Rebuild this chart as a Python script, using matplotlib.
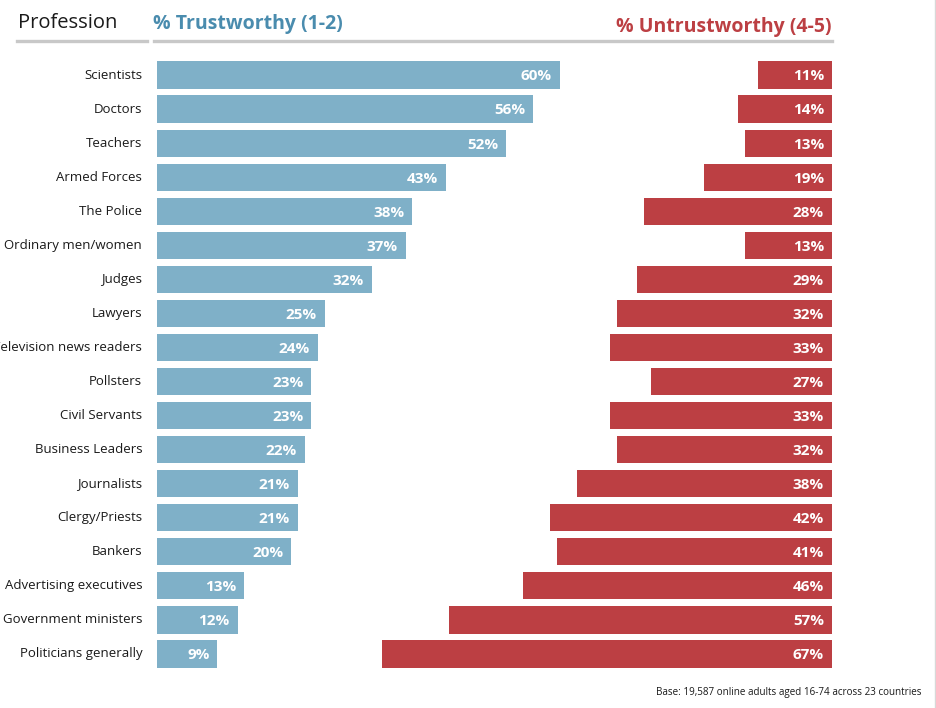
import matplotlib
matplotlib.use("Agg")
import matplotlib.pyplot as plt
from matplotlib.lines import Line2D

plt.rcParams["font.family"] = ["Open Sans", "DejaVu Sans"]

professions = [
    "Scientists", "Doctors", "Teachers", "Armed Forces", "The Police",
    "Ordinary men/women", "Judges", "Lawyers", "Television news readers",
    "Pollsters", "Civil Servants", "Business Leaders", "Journalists",
    "Clergy/Priests", "Bankers", "Advertising executives",
    "Government ministers", "Politicians generally",
]
trustworthy = [60, 56, 52, 43, 38, 37, 32, 25, 24, 23, 23, 22, 21, 21, 20, 13, 12, 9]
untrustworthy = [11, 14, 13, 19, 28, 13, 29, 32, 33, 27, 33, 32, 38, 42, 41, 46, 57, 67]

BLUE = "#7fb0c8"
BLUE_TXT = "#4a8cae"
RED = "#bc3f43"
GREY_LINE = "#c8c8c8"

W, H = 936, 708
fig = plt.figure(figsize=(W / 100, H / 100), dpi=100)

# axes placed in pixel terms: x 157..832, y 58..671
ax_l, ax_r, ax_t, ax_b = 157, 832, 58, 671
ax = fig.add_axes([ax_l / W, 1 - ax_b / H, (ax_r - ax_l) / W, (ax_b - ax_t) / H])
right_end = 100.5  # percent units spanning the axes width

y = list(range(len(professions)))
ax.barh(y, trustworthy, height=0.8, color=BLUE, left=0)
ax.barh(y, untrustworthy, height=0.8, color=RED,
        left=[right_end - v for v in untrustworthy])
ax.set_xlim(0, right_end)
ax.set_ylim(len(professions) - 0.5, -0.5)
ax.axis("off")

pad = 1.2
for i, (t, u) in enumerate(zip(trustworthy, untrustworthy)):
    ax.text(t - pad, i + 0.04, f"{t}%", ha="right", va="center", color="white",
            fontsize=11, fontweight="bold")
    ax.text(right_end - pad, i + 0.04, f"{u}%", ha="right", va="center", color="white",
            fontsize=11, fontweight="bold")
    ax.text(-2.2, i, professions[i], ha="right", va="center", color="#1a1a1a",
            fontsize=9.5)

# headers
def fx(px):
    return px / W

def fy(py):
    return 1 - py / H

fig.text(fx(18), fy(23), "Profession", ha="left", va="center", fontsize=14.5, color="#1a1a1a")
fig.text(fx(153), fy(24), "% Trustworthy (1-2)", ha="left", va="center", fontsize=14,
         fontweight="bold", color=BLUE_TXT)
fig.text(fx(832), fy(27), "% Untrustworthy (4-5)", ha="right", va="center", fontsize=14,
         fontweight="bold", color=RED)
fig.add_artist(Line2D([fx(17), fx(147)], [fy(41), fy(41)], color=GREY_LINE, lw=2.4))
fig.add_artist(Line2D([fx(154), fx(832)], [fy(41), fy(41)], color=GREY_LINE, lw=2.4))
fig.add_artist(Line2D([fx(935), fx(935)], [0, 1], color="#d8d8d8", lw=1))

fig.text(fx(921), fy(692), "Base: 19,587 online adults aged 16-74 across 23 countries",
         ha="right", va="center", fontsize=7.1, color="#1a1a1a")

fig.savefig("out.png", dpi=100, facecolor="white")
